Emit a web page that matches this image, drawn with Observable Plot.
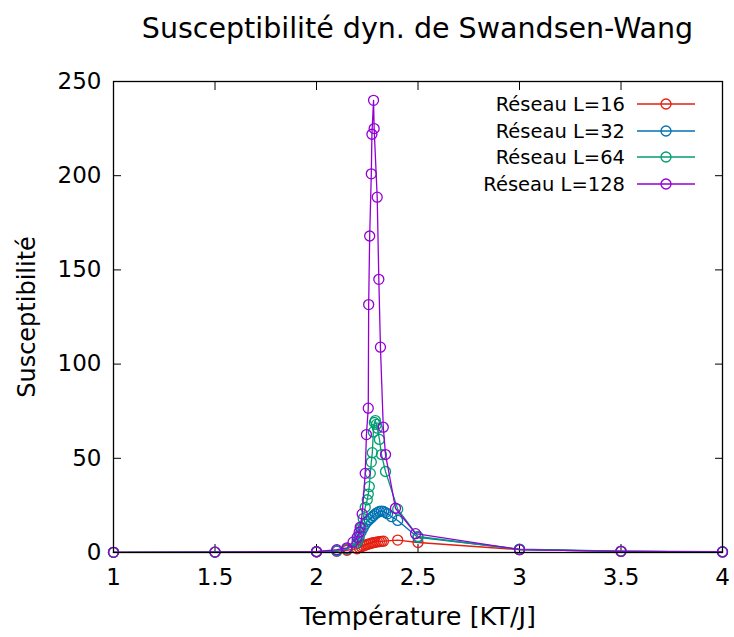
<!DOCTYPE html>
<html><head><meta charset="utf-8">
<script src="https://cdn.jsdelivr.net/npm/d3@7"></script>
<script src="https://cdn.jsdelivr.net/npm/@observablehq/plot@0.6"></script>
<style>
body{margin:0;background:#fff;font-family:"DejaVu Sans",sans-serif;}
#wrap{position:relative;width:734px;height:637px;overflow:hidden;}
#title{height:60px;box-sizing:border-box;padding:12px 12px 0 113px;text-align:center;font-size:28.5px;line-height:34px;color:#000;white-space:nowrap;}
#legend{position:absolute;left:0;top:0;width:734px;height:637px;pointer-events:none;}
</style></head><body>
<div id="wrap"><div id="title">Susceptibilité dyn. de Swandsen-Wang</div><div id="chart"></div><svg id="legend"></svg></div>
<script>
const series = ["Réseau L=16", "Réseau L=32", "Réseau L=64", "Réseau L=128"];
const colors = ["#e51e10", "#0072b2", "#009e73", "#9400d3"];
const xTicks = [1, 1.5, 2, 2.5, 3, 3.5, 4];
const yTicks = [0, 50, 100, 150, 200, 250];

const T16 = [1, 1.5, 2, 2.1, 2.15, 2.2, 2.21, 2.22, 2.23, 2.24, 2.25, 2.26, 2.27, 2.28, 2.29, 2.3, 2.31, 2.32, 2.33, 2.4, 2.5, 3, 3.5, 4];
const S16 = [0.1, 0.2, 0.4, 0.7, 1.2, 2.0, 2.6, 3.1, 3.5, 3.9, 4.3, 4.6, 4.9, 5.2, 5.4, 5.6, 5.8, 5.9, 6.0, 6.6, 5.3, 1.5, 0.6, 0.3];

const T32 = [1, 1.5, 2, 2.1, 2.15, 2.2, 2.21, 2.22, 2.23, 2.24, 2.25, 2.26, 2.27, 2.28, 2.29, 2.3, 2.31, 2.32, 2.33, 2.34, 2.35, 2.37, 2.4, 2.5, 3, 3.5, 4];
const S32 = [0.1, 0.2, 0.4, 0.8, 1.8, 5, 8, 11, 13, 15, 16.5, 17.5, 18.5, 19.5, 20.5, 21.2, 21.8, 22, 21.8, 21.2, 20.5, 19, 17, 8, 1.8, 0.7, 0.4];

const T64 = [1, 1.5, 2, 2.1, 2.15, 2.2, 2.21, 2.22, 2.23, 2.24, 2.25, 2.255, 2.26, 2.265, 2.27, 2.275, 2.28, 2.285, 2.29, 2.295, 2.3, 2.31, 2.32, 2.34, 2.4, 2.5, 3, 3.5, 4];
const S64 = [0.1, 0.2, 0.4, 1, 2, 6, 9, 13, 18, 24, 28, 31, 35, 42, 48, 53, 64, 69, 70, 68, 66, 60, 52, 43, 23, 8.5, 1.6, 0.6, 0.3];

const T128 = [1, 1.5, 2, 2.1, 2.15, 2.18, 2.2, 2.21, 2.215, 2.225, 2.24, 2.246, 2.255, 2.257, 2.262, 2.27, 2.273, 2.281, 2.284, 2.299, 2.307, 2.315, 2.329, 2.34, 2.389, 2.488, 3, 3.5, 4];
const S128 = [0.1, 0.2, 0.4, 1.5, 2.5, 5.5, 8, 10.8, 13.4, 20.5, 42, 62.6, 76.6, 131.6, 168, 201, 222, 240, 225, 188.6, 145, 109, 66.5, 52, 23.5, 10, 1.5, 0.6, 0.3];

const Ts = [T16, T32, T64, T128];
const Ss = [S16, S32, S64, S128];
const rows = [];
series.forEach((s, i) => Ts[i].forEach((t, j) => rows.push({serie: s, T: t, S: Ss[i][j]})));

const FONT = "DejaVu Sans";
const seriesMarks = series.flatMap(s => {
  const d = rows.filter(r => r.serie === s);
  return [
    Plot.line(d, {x: "T", y: "S", stroke: "serie", strokeWidth: 1.3}),
    Plot.dot(d, {x: "T", y: "S", stroke: "serie", r: 5, strokeWidth: 1.3})
  ];
});

const chart = Plot.plot({
  width: 734, height: 577,
  marginTop: 21, marginBottom: 85, marginLeft: 113, marginRight: 12,
  style: {fontFamily: FONT, fontSize: "23px", color: "#000", background: "#fff", overflow: "visible"},
  x: {domain: [1, 4]},
  y: {domain: [0, 250]},
  color: {domain: series, range: colors},
  marks: [
    Plot.axisX(xTicks, {anchor: "bottom", tickSize: -8, tickPadding: 24, fontSize: 23, tickFormat: d => String(d), label: null}),
    Plot.axisX({anchor: "bottom", ticks: [], label: "Température [KT/J]", labelAnchor: "center", labelOffset: 72, labelArrow: "none", fontSize: 25.5}),
    Plot.axisX(xTicks, {anchor: "top", tickSize: -8, tickFormat: () => "", label: null}),
    Plot.axisY(yTicks, {anchor: "left", tickSize: -8, tickPadding: 20, fontSize: 23, tickFormat: d => String(d), label: null}),
    Plot.axisY({anchor: "left", ticks: [], label: "Susceptibilité", labelAnchor: "center", labelOffset: 96, labelArrow: "none", fontSize: 24}),
    Plot.axisY(yTicks, {anchor: "right", tickSize: -8, tickFormat: () => "", label: null}),
    ...seriesMarks,
    Plot.frame({stroke: "#000", strokeWidth: 1.3})
  ]
});
document.getElementById("chart").appendChild(chart);

// legend (inside plot, top right), built from series/colors
const leg = d3.select("#legend");
const rowY = [104, 131, 157, 184];
series.forEach((s, i) => {
  const g = leg.append("g");
  g.append("text").attr("x", 625).attr("y", rowY[i]).attr("dy", "0.35em").attr("text-anchor", "end")
    .attr("font-family", FONT).attr("font-size", 19.5).attr("fill", "#000").text(s);
  g.append("line").attr("x1", 637).attr("x2", 695).attr("y1", rowY[i]).attr("y2", rowY[i])
    .attr("stroke", colors[i]).attr("stroke-width", 1.3);
  g.append("circle").attr("cx", 666).attr("cy", rowY[i]).attr("r", 5).attr("fill", "none")
    .attr("stroke", colors[i]).attr("stroke-width", 1.3);
});
</script>
</body></html>
